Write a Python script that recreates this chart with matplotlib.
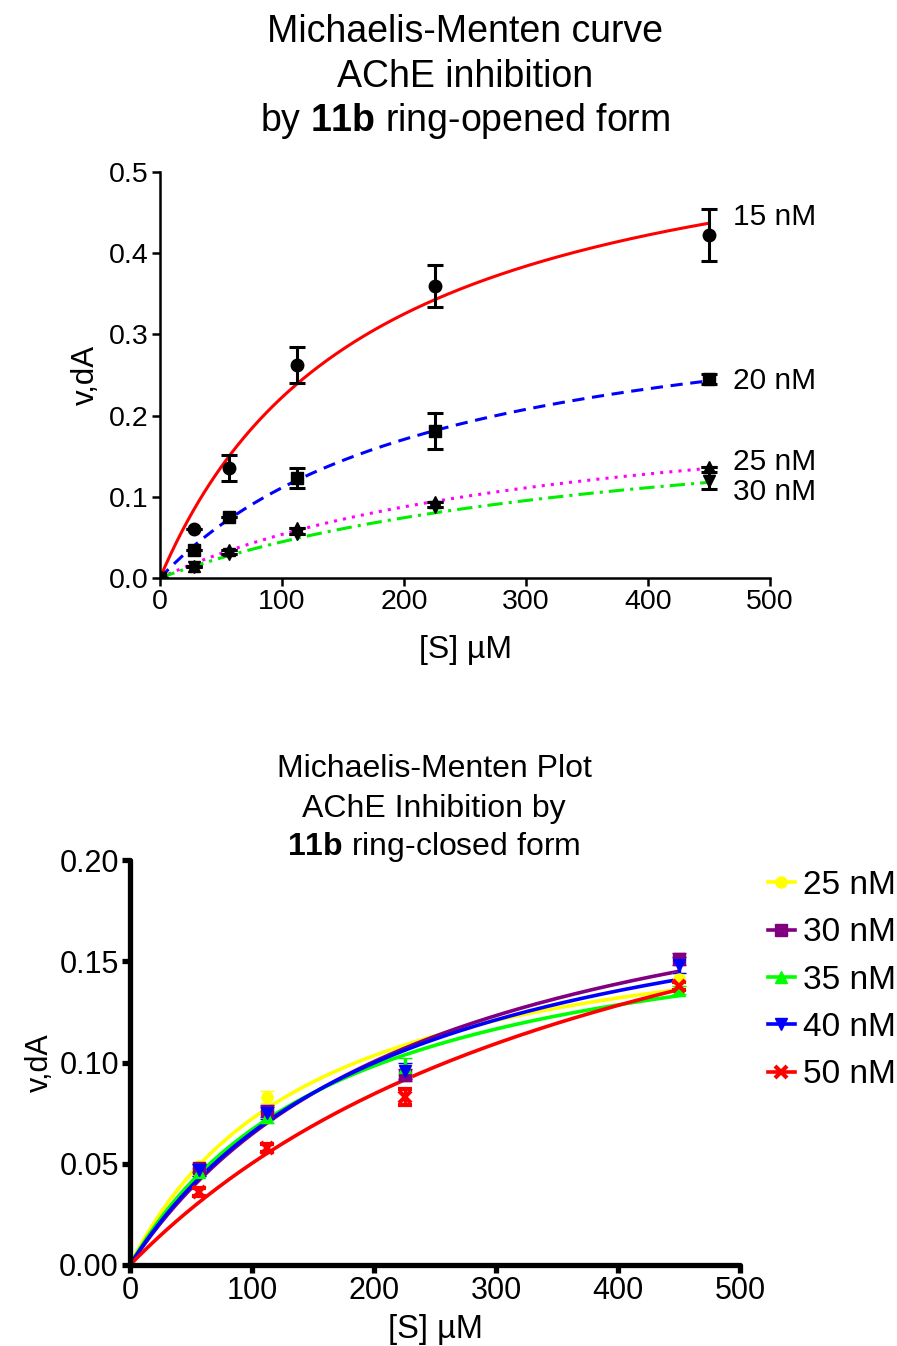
import numpy as np
import matplotlib
matplotlib.use("Agg")
import matplotlib.pyplot as plt

plt.rcParams['font.family'] = ['Liberation Sans', 'DejaVu Sans']
plt.rcParams['mathtext.fontset'] = 'custom'
plt.rcParams['mathtext.rm'] = 'Liberation Sans'
plt.rcParams['mathtext.bf'] = 'Liberation Sans:bold'

# ---------------- Top chart data (ring-opened form) ----------------
top_x = [0, 28.125, 56.25, 112.5, 225, 450]
top_labels = ["15 nM", "20 nM", "25 nM", "30 nM"]
top_y_15 = [0.0, 0.060, 0.135, 0.262, 0.360, 0.423]
top_e_15 = [0.0, 0.0, 0.016, 0.022, 0.026, 0.032]
top_y_20 = [0.0, 0.034, 0.075, 0.123, 0.181, 0.245]
top_e_20 = [0.0, 0.0, 0.0, 0.012, 0.022, 0.006]
top_y_25 = [0.0, 0.015, 0.035, 0.061, 0.093, 0.137]
top_e_25 = [0.0, 0.0, 0.0, 0.0, 0.0, 0.0]
top_y_30 = [0.0, 0.013, 0.030, 0.054, 0.087, 0.120]
top_e_30 = [0.0, 0.0, 0.0, 0.0, 0.0, 0.010]
# fitted Michaelis-Menten parameters (Vmax, Km)
top_vmax = [0.603, 0.367, 0.238, 0.222]
top_km = [171, 230, 343, 398]

# ---------------- Bottom chart data (ring-closed form) ----------------
bot_x = [56.25, 112.5, 225, 450]
bot_labels = ["25 nM", "30 nM", "35 nM", "40 nM", "50 nM"]
bot_y_25 = [0.049, 0.083, 0.096, 0.141]
bot_e_25 = [0.002, 0.003, 0.003, 0.003]
bot_y_30 = [0.048, 0.076, 0.094, 0.151]
bot_e_30 = [0.002, 0.003, 0.003, 0.003]
bot_y_35 = [0.046, 0.073, 0.098, 0.136]
bot_e_35 = [0.002, 0.003, 0.004, 0.002]
bot_y_40 = [0.047, 0.075, 0.096, 0.148]
bot_e_40 = [0.003, 0.003, 0.004, 0.004]
bot_y_50 = [0.036, 0.058, 0.083, 0.138]
bot_e_50 = [0.002, 0.002, 0.004, 0.002]
bot_vmax = [0.182, 0.225, 0.1853, 0.2106, 0.2657]
bot_km = [152, 248, 177, 222, 429]

W, H = 897, 1346
fig = plt.figure(figsize=(W / 100, H / 100), dpi=100)

# ================= Top chart =================
ax1 = fig.add_axes([160 / W, 1 - 578 / H, 610 / W, 406 / H])
xs = np.linspace(0, 450, 300)
top_y = [top_y_15, top_y_20, top_y_25, top_y_30]
top_e = [top_e_15, top_e_20, top_e_25, top_e_30]
top_colors = ['#ff0000', '#0000ff', '#ff00ff', '#00ee00']
top_styles = ['-', (0, (4, 2.5)), (0, (1, 2)), (0, (5, 2, 1, 2))]
top_markers = ['o', 's', '^', 'v']
label_y = [0.445, 0.243, 0.143, 0.106]
for i in range(4):
    v, k = top_vmax[i], top_km[i]
    ax1.plot(xs, v * xs / (k + xs), color=top_colors[i], ls=top_styles[i], lw=2.2, zorder=2)
    ax1.errorbar(top_x, top_y[i], yerr=top_e[i], fmt=top_markers[i], color='black',
                 ms=9, elinewidth=2.2, capsize=6, capthick=2.2, zorder=3)
    ax1.text(470, label_y[i], top_labels[i], fontsize=21.5, va='center', ha='left')

ax1.set_xlim(0, 500)
ax1.set_ylim(0, 0.5)
ax1.set_xticks([0, 100, 200, 300, 400, 500])
ax1.set_yticks([0, 0.1, 0.2, 0.3, 0.4, 0.5])
ax1.set_yticklabels(["0.0", "0.1", "0.2", "0.3", "0.4", "0.5"])
for s in ['top', 'right']:
    ax1.spines[s].set_visible(False)
for s in ['left', 'bottom']:
    ax1.spines[s].set_linewidth(1.8)
ax1.tick_params(direction='out', length=6, width=1.8, labelsize=20.5, pad=2)
ax1.set_xlabel("[S] µM", fontsize=23, labelpad=14)
ax1.set_ylabel("v,dA", fontsize=22.5, labelpad=6)

fig.text(465 / W, 1 - 42 / H, "Michaelis-Menten curve", fontsize=27, ha='center', va='baseline')
fig.text(465 / W, 1 - 87 / H, "AChE inhibition", fontsize=27, ha='center', va='baseline')
fig.text(465 / W, 1 - 131 / H, r"by $\mathbf{11b}$ ring-opened form", fontsize=27, ha='center', va='baseline')

# ================= Bottom chart =================
ax2 = fig.add_axes([130 / W, 1 - 1265 / H, 610 / W, 405 / H])
bot_y = [bot_y_25, bot_y_30, bot_y_35, bot_y_40, bot_y_50]
bot_e = [bot_e_25, bot_e_30, bot_e_35, bot_e_40, bot_e_50]
bot_colors = ['#ffff00', '#800080', '#00ff00', '#0000ff', '#ff0000']
bot_markers = ['o', 's', '^', 'v', 'x']
handles = []
for i in range(5):
    v, k = bot_vmax[i], bot_km[i]
    ax2.plot(xs, v * xs / (k + xs), color=bot_colors[i], lw=2.6, zorder=2)
    ax2.errorbar(bot_x, bot_y[i], yerr=bot_e[i], fmt=bot_markers[i], color=bot_colors[i],
                 ms=8, mew=3 if bot_markers[i] == 'x' else 1, elinewidth=2.5,
                 capsize=5, capthick=2.5, zorder=3)
    h, = ax2.plot([], [], color=bot_colors[i], marker=bot_markers[i], lw=2.6, ms=8,
                  mew=3 if bot_markers[i] == 'x' else 1)
    handles.append(h)

ax2.set_xlim(0, 500)
ax2.set_ylim(0, 0.2)
ax2.set_xticks([0, 100, 200, 300, 400, 500])
ax2.set_yticks([0, 0.05, 0.10, 0.15, 0.20])
ax2.set_yticklabels(["0.00", "0.05", "0.10", "0.15", "0.20"])
for s in ['top', 'right']:
    ax2.spines[s].set_visible(False)
for s in ['left', 'bottom']:
    ax2.spines[s].set_linewidth(3.8)
    ax2.spines[s].set_capstyle('round')
ax2.tick_params(direction='out', length=6, width=3.8, labelsize=22, pad=2)
ax2.set_xlabel("[S] µM", fontsize=23.5, labelpad=6)
ax2.set_ylabel("v,dA", fontsize=22, labelpad=3)

leg = ax2.legend(handles, bot_labels, loc='upper left', bbox_to_anchor=(768 / W, 1 - 870 / H),
                 bbox_transform=fig.transFigure, frameon=False, fontsize=24,
                 handlelength=0.8, handletextpad=0.25, labelspacing=0.49, borderaxespad=0,
                 borderpad=0)

fig.text(434 / W, 1 - 777 / H, "Michaelis-Menten Plot", fontsize=23, ha='center', va='baseline')
fig.text(434 / W, 1 - 817 / H, "AChE Inhibition by", fontsize=23, ha='center', va='baseline')
fig.text(434 / W, 1 - 855 / H, r"$\mathbf{11b}$ ring-closed form", fontsize=23, ha='center', va='baseline')

fig.savefig("out.png", dpi=100)
